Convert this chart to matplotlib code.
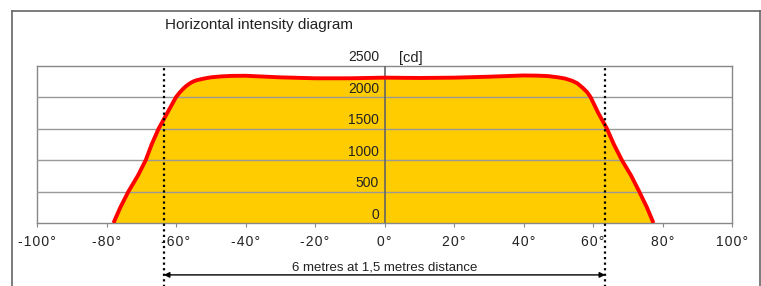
# Horizontal intensity diagram
import matplotlib.pyplot as plt
import matplotlib.transforms as mtransforms
from matplotlib.lines import Line2D

plt.rcParams['font.family'] = ['Liberation Sans', 'DejaVu Sans']

# Datos
angles = [-78, -76, -73.7, -71, -68.7, -67, -65, -62.5, -60, -59, -58, -57,
          -56, -55, -54, -52, -50, -47, -44, -40, -30, -20, -10, 0, 10, 20,
          30, 40, 44, 47, 50, 52, 54, 55.5, 57, 58.3, 59.3, 61.5, 64, 66,
          68.3, 71, 73.3, 75.5, 77.4]
intensity = [0, 250, 500, 750, 1000, 1250, 1500, 1750, 2000, 2070, 2130, 2180,
             2220, 2250, 2270, 2295, 2315, 2330, 2338, 2340, 2315, 2300, 2300,
             2310, 2305, 2310, 2325, 2345, 2342, 2335, 2315, 2295, 2260, 2220,
             2150, 2080, 2000, 1750, 1500, 1250, 1000, 750, 500, 250, 0]
x_ticks = [-100, -80, -60, -40, -20, 0, 20, 40, 60, 80, 100]
y_ticks = [0, 500, 1000, 1500, 2000, 2500]
beam_edges = [-63.5, 63.5]
title = "Horizontal intensity diagram"
unit = "[cd]"
beam_text = "6 metres at 1,5 metres distance"

fig = plt.figure(figsize=(7.61, 2.86), dpi=100)
ax = fig.add_axes([37 / 761, 1 - 223 / 286, 695 / 761, 157.3 / 286])

# Curva
ax.fill_between(angles, intensity, 0, color="#FFCC00", lw=0, zorder=2)
ax.plot(angles, intensity, color="#FF0000", lw=2.8, solid_joinstyle="round",
        solid_capstyle="butt", zorder=4)

ax.set_xlim(-100, 100)
ax.set_ylim(0, 2500)

# Rejilla
for v in y_ticks[1:-1]:
    ax.axhline(v, color="#999999", lw=1, zorder=3)
ax.axvline(0, color="#666666", lw=1.2, zorder=3)

for s in ax.spines.values():
    s.set_color("#888888")
    s.set_linewidth(1)

ax.set_yticks([])
ax.set_xticks(x_ticks)
spaced = ["\u200a".join(f"{t}") + "\u200a°" for t in x_ticks]
ax.set_xticklabels(spaced, fontsize=10, color="#222222")
ax.tick_params(axis="x", length=3, color="#888888", pad=6)

# Etiquetas del eje Y
for v in y_ticks:
    ax.annotate(f"{v}", xy=(0, v), xytext=(-4, 1), textcoords="offset points",
                ha="right", va="bottom", fontsize=10, color="#222222",
                annotation_clip=False)
trans = mtransforms.blended_transform_factory(ax.transData, ax.transAxes)
ax.text(4.2, 1.005, unit, transform=trans, ha="left", va="bottom",
        fontsize=10.5, color="#222222")

# Lineas punteadas y flecha
for b in beam_edges:
    ax.axvline(b, ymin=-0.42, ymax=0.99, color="black", lw=1.6,
               linestyle=(0, (1, 1.5)), clip_on=False, zorder=5)
ax.annotate("", xy=(beam_edges[0], -0.33), xytext=(beam_edges[1], -0.33),
            xycoords=trans, textcoords=trans,
            arrowprops=dict(arrowstyle="<|-|>", color="black", lw=1,
                            mutation_scale=8, shrinkA=0, shrinkB=0))
ax.text(0, -0.28, beam_text, transform=trans, ha="center", va="center",
        fontsize=9.5, color="#222222")

fig.text(165 / 761, 1 - 25 / 286, title, ha="left", va="center", fontsize=11, color="#222222")

# Marco exterior
for xs, ys in [([12, 12], [0, 275]), ([12, 760], [275, 275]), ([760, 760], [0, 275])]:
    fig.add_artist(Line2D([x / 761 for x in xs], [y / 286 for y in ys],
                          color="#666666", lw=1.2))

fig.savefig("out.png", dpi=100)
